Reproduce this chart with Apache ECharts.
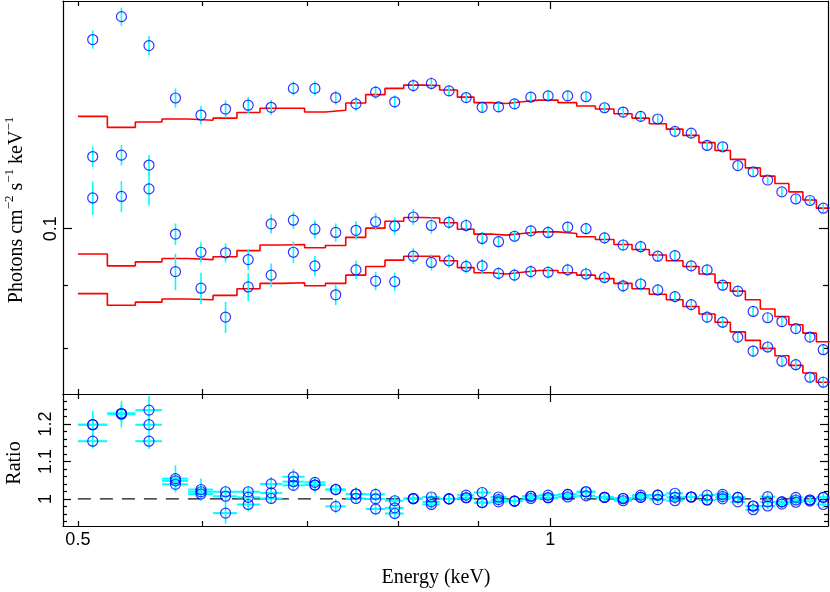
<!DOCTYPE html>
<html><head><meta charset="utf-8">
<script src="https://cdn.jsdelivr.net/npm/echarts@6/dist/echarts.min.js"></script>
<style>html,body{margin:0;padding:0;background:#fff}#c{width:830px;height:592px}</style>
</head><body><div id="c"></div>
<script>
// ---- data (energies in keV) ----
const binEdges = [0.500,0.5221,0.5440,0.5657,0.5878,0.6097,0.6315,0.6532,0.6750,0.6974,0.7190,0.7408,0.7628,0.7847,0.8066,0.8290,0.8503,0.8727,0.8942,0.9163,0.9379,0.9600,0.9833,1.0115,1.0397,1.0686,1.0981,1.1276,1.1566,1.1859,1.2152,1.2441,1.2737,1.3027,1.3317,1.3613,1.3908,1.4195,1.4490,1.4780,1.5072];
const binCenters = [0.511,0.533,0.555,0.577,0.599,0.621,0.642,0.664,0.686,0.708,0.730,0.752,0.774,0.796,0.818,0.840,0.862,0.884,0.905,0.927,0.949,0.972,0.997,1.026,1.054,1.083,1.113,1.142,1.171,1.201,1.230,1.259,1.288,1.317,1.347,1.376,1.405,1.434,1.464,1.493];

const fluxA = [0.1423,0.1485,0.1407,0.1276,0.1236,0.1250,0.1259,0.1254,0.1299,0.1299,0.1277,0.1262,0.1290,0.1267,0.1306,0.1311,0.1293,0.1277,0.1254,0.1255,0.1262,0.1278,0.1281,0.1281,0.1279,0.1253,0.1243,0.1233,0.1227,0.1199,0.1195,0.1168,0.1165,0.1125,0.1112,0.1095,0.1071,0.1057,0.1054,0.1039];
const fluxB = [0.1144,0.1147,0.1126,0.0990,0.0957,0.0956,0.0944,0.1009,0.1016,0.0999,0.0993,0.0997,0.1013,0.1005,0.1022,0.1006,0.1012,0.1006,0.0982,0.0976,0.0986,0.0996,0.0993,0.1003,0.1000,0.0983,0.0970,0.0967,0.0950,0.0951,0.0933,0.0926,0.0900,0.0890,0.0857,0.0847,0.0841,0.0830,0.0817,0.0798];
const fluxC = [0.1059,0.1062,0.1077,0.0923,0.0895,0.0848,0.0897,0.0917,0.0957,0.0933,0.0884,0.0926,0.0907,0.0906,0.0950,0.0939,0.0942,0.0932,0.0933,0.0920,0.0917,0.0923,0.0922,0.0926,0.0919,0.0913,0.0899,0.0902,0.0892,0.0881,0.0868,0.0848,0.0840,0.0817,0.0796,0.0802,0.0781,0.0776,0.0758,0.0751];

const modelA = [0.1233,0.1208,0.1220,0.1227,0.1224,0.1229,0.1242,0.1252,0.1252,0.1243,0.1247,0.1264,0.1284,0.1299,0.1307,0.1306,0.1295,0.1278,0.1265,0.1263,0.1267,0.1271,0.1271,0.1265,0.1257,0.1250,0.1239,0.1229,0.1216,0.1204,0.1190,0.1174,0.1157,0.1138,0.1120,0.1103,0.1088,0.1071,0.1055,0.1039];
const modelB = [0.0954,0.0933,0.0940,0.0946,0.0944,0.0949,0.0960,0.0970,0.0971,0.0965,0.0969,0.0984,0.1001,0.1014,0.1021,0.1020,0.1011,0.0999,0.0990,0.0988,0.0991,0.0994,0.0994,0.0991,0.0985,0.0980,0.0971,0.0962,0.0952,0.0942,0.0932,0.0919,0.0904,0.0890,0.0876,0.0861,0.0849,0.0836,0.0823,0.0810];
const modelC = [0.0886,0.0867,0.0872,0.0877,0.0876,0.0883,0.0894,0.0903,0.0904,0.0899,0.0903,0.0917,0.0932,0.0943,0.0950,0.0950,0.0942,0.0930,0.0921,0.0919,0.0922,0.0925,0.0925,0.0921,0.0917,0.0911,0.0903,0.0894,0.0885,0.0876,0.0865,0.0853,0.0840,0.0825,0.0812,0.0800,0.0789,0.0775,0.0764,0.0751];

// relative (fractional) 1-sigma errors
const relErrA = [0.017,0.017,0.018,0.018,0.017,0.016,0.015,0.014,0.013,0.013,0.013,0.013,0.012,0.012,0.012,0.012,0.010,0.010,0.010,0.010,0.010,0.010,0.010,0.010,0.010,0.010,0.010,0.010,0.009,0.009,0.009,0.009,0.008,0.008,0.008,0.008,0.008,0.008,0.008,0.008];
const relErrB = [0.019,0.019,0.019,0.020,0.019,0.018,0.019,0.018,0.016,0.017,0.017,0.017,0.016,0.016,0.015,0.015,0.012,0.012,0.012,0.011,0.011,0.011,0.011,0.011,0.011,0.011,0.011,0.011,0.010,0.010,0.010,0.010,0.010,0.010,0.010,0.010,0.010,0.010,0.010,0.010];
const relErrC = [0.031,0.029,0.031,0.034,0.029,0.029,0.026,0.022,0.020,0.019,0.019,0.017,0.017,0.017,0.015,0.015,0.013,0.013,0.013,0.012,0.012,0.012,0.012,0.012,0.012,0.012,0.012,0.012,0.011,0.011,0.011,0.011,0.011,0.011,0.011,0.011,0.011,0.011,0.011,0.011];

const ratioA = [1.154,1.228,1.154,1.039,1.013,1.019,1.019,1.001,1.036,1.044,1.025,1.001,1.000,0.976,1.001,1.005,1.000,1.003,0.990,0.992,0.994,1.007,1.010,1.012,1.019,1.004,1.001,1.004,1.010,0.995,1.005,0.997,1.006,0.992,0.981,0.992,0.986,0.991,0.997,1.004];
const ratioB = [1.198,1.228,1.198,1.048,1.019,1.007,0.985,1.040,1.046,1.037,1.025,1.013,1.012,0.995,1.001,0.985,1.000,1.010,0.990,0.998,0.994,1.001,1.003,1.012,1.019,1.004,1.001,1.004,0.998,1.015,1.005,1.010,1.000,1.004,0.971,0.981,0.992,0.997,0.994,0.985];
const ratioC = [1.198,1.226,1.237,1.054,1.025,0.962,1.004,1.016,1.059,1.037,0.980,1.013,0.973,0.961,1.000,0.992,1.000,1.003,1.017,1.005,0.994,1.007,1.003,1.005,1.008,1.004,0.995,1.010,1.010,1.004,1.005,0.997,1.012,1.004,0.981,1.006,0.992,1.004,0.997,1.004];
const ratioUnity = 1;

// ---- ticks ----
const energyMajorTicks = [1];
const energyMinorTicks = [0.5,0.6,0.7,0.8,0.9];
const energyTickLabels = [0.5,1];
const fluxMajorTicks = [0.1];
const fluxMinorTicks = [0.08,0.09];
const ratioMajorTicks = [1,1.1,1.2];
const ratioMinorTicks = [0.94,0.96,0.98,1.02,1.04,1.06,1.08,1.12,1.14,1.16,1.18,1.22,1.24,1.26];

const X_MIN = 0.4892, X_MAX = 1.5034;
const F_MIN = 0.07347, F_MAX = 0.1529;
const R_MIN = 0.9276, R_MAX = 1.28;

const BLUE = '#0000ff', CYAN = '#00ffff', RED = '#ff0000', INK = '#000000';
const TICK_FONT = {fontFamily:'Liberation Sans', fontSize:18, color:INK};

function axisCommon(type, min, max, ticks, len, showLine, labels, extra) {
  return {
    type, min, max,
    axisLine:{show:showLine, onZero:false, lineStyle:{color:INK, width:1.2}},
    axisTick:{show:true, inside:true, length:len, customValues:ticks, lineStyle:{color:INK, width:1.2}},
    splitLine:{show:false},
    axisLabel: labels ? Object.assign({show:true, customValues:labels}, TICK_FONT, extra||{}) : {show:false}
  };
}
function xA(grid, pos, ticks, len, line, labels, extra) {
  return Object.assign(axisCommon('log', X_MIN, X_MAX, ticks, len, line, labels, extra), {gridIndex:grid, position:pos, logBase:10});
}
function yA(grid, pos, type, min, max, ticks, len, line, labels, extra) {
  const o = Object.assign(axisCommon(type, min, max, ticks, len, line, labels, extra), {gridIndex:grid, position:pos});
  if (type === 'log') o.logBase = 10;
  return o;
}

const xAxis = [
  xA(0,'bottom',energyMajorTicks,8,true),
  xA(0,'bottom',energyMinorTicks,5,false),
  xA(0,'top',energyMajorTicks,8,true),
  xA(0,'top',energyMinorTicks,5,false),
  xA(1,'bottom',energyMajorTicks,8,true,energyTickLabels,{margin:5, formatter:v=>String(+(+v).toFixed(2))}),
  xA(1,'bottom',energyMinorTicks,5,false),
  xA(1,'top',energyMajorTicks,8,true),
  xA(1,'top',energyMinorTicks,5,false)
];
const yAxis = [
  yA(0,'left','log',F_MIN,F_MAX,fluxMajorTicks,9,true,fluxMajorTicks,{rotate:90, margin:3, formatter:v=>String(+(+v).toFixed(3))}),
  yA(0,'left','log',F_MIN,F_MAX,fluxMinorTicks,5,false),
  yA(0,'right','log',F_MIN,F_MAX,fluxMajorTicks,9,true),
  yA(0,'right','log',F_MIN,F_MAX,fluxMinorTicks,5,false),
  yA(1,'left','value',R_MIN,R_MAX,ratioMajorTicks,8,true,ratioMajorTicks,{rotate:90, margin:8, formatter:v=>String(+(+v).toFixed(2))}),
  yA(1,'left','value',R_MIN,R_MAX,ratioMinorTicks,4,false),
  yA(1,'right','value',R_MIN,R_MAX,ratioMajorTicks,8,true),
  yA(1,'right','value',R_MIN,R_MAX,ratioMinorTicks,4,false)
];

function stepData(model) {
  const d = model.map((m,i)=>[binEdges[i], m]);
  d.push([binEdges[binEdges.length-1], model[model.length-1]]);
  return d;
}
function errData(flux, rel) {
  return flux.map((v,i)=>[binCenters[i], v*(1-rel[i]), v*(1+rel[i])]);
}
function ratioErrData(r, rel) {
  return r.map((v,i)=>[binCenters[i], binEdges[i], binEdges[i+1], v, v*(1-rel[i]), v*(1+rel[i])]);
}
function pts(vals) { return vals.map((v,i)=>[binCenters[i], v]); }

const modelSeries = [modelA, modelB, modelC].map(m => ({
  type:'line', xAxisIndex:0, yAxisIndex:0, step:'end', data:stepData(m),
  symbol:'none', lineStyle:{color:RED, width:1.6}, z:2, silent:true
}));
const errSeries = [[fluxA,relErrA],[fluxB,relErrB],[fluxC,relErrC]].map(([f,e]) => ({
  type:'custom', xAxisIndex:0, yAxisIndex:0, data:errData(f,e), encode:{x:0, y:[1,2]}, z:3, silent:true,
  renderItem:(params, api) => {
    const p1 = api.coord([api.value(0), api.value(1)]);
    const p2 = api.coord([api.value(0), api.value(2)]);
    return {type:'line', shape:{x1:p1[0], y1:p1[1], x2:p2[0], y2:p2[1]}, style:{stroke:CYAN, lineWidth:1.6}};
  }
}));
const ptSeries = [fluxA, fluxB, fluxC].map(f => ({
  type:'scatter', xAxisIndex:0, yAxisIndex:0, data:pts(f), symbol:'circle', symbolSize:10,
  itemStyle:{color:'rgba(0,0,0,0)', borderColor:BLUE, borderWidth:1.2}, z:4, silent:true
}));

const unitySeries = {
  type:'line', xAxisIndex:4, yAxisIndex:4, symbol:'none', silent:true, z:2,
  data:[[binEdges[0], ratioUnity],[binEdges[binEdges.length-1], ratioUnity]],
  lineStyle:{color:'#111', width:1.4, type:[13,9]}
};
const ratioErrSeries = [[ratioA,relErrA],[ratioB,relErrB],[ratioC,relErrC]].map(([r,e]) => ({
  type:'custom', xAxisIndex:4, yAxisIndex:4, data:ratioErrData(r,e), encode:{x:[0,1,2], y:[3,4,5]}, z:3, silent:true,
  renderItem:(params, api) => {
    const c = api.value(0), lo = api.value(1), hi = api.value(2);
    const r = api.value(3), rlo = api.value(4), rhi = api.value(5);
    const h1 = api.coord([lo, r]), h2 = api.coord([hi, r]);
    const v1 = api.coord([c, rlo]), v2 = api.coord([c, rhi]);
    return {type:'group', children:[
      {type:'line', shape:{x1:h1[0], y1:h1[1], x2:h2[0], y2:h2[1]}, style:{stroke:CYAN, lineWidth:2}},
      {type:'line', shape:{x1:v1[0], y1:v1[1], x2:v2[0], y2:v2[1]}, style:{stroke:CYAN, lineWidth:1.6}}
    ]};
  }
}));
const ratioPtSeries = [ratioA, ratioB, ratioC].map(r => ({
  type:'scatter', xAxisIndex:4, yAxisIndex:4, data:pts(r), symbol:'circle', symbolSize:10,
  itemStyle:{color:'rgba(0,0,0,0)', borderColor:BLUE, borderWidth:1.2}, z:4, silent:true
}));

const chart = echarts.init(document.getElementById('c'), null, {renderer:'canvas'});
chart.setOption({
  animation:false,
  backgroundColor:'#ffffff',
  grid:[
    {left:63, right:2, top:1, height:393},
    {left:63, right:2, top:394, height:132}
  ],
  xAxis, yAxis,
  series:[...modelSeries, ...errSeries, ...ptSeries, unitySeries, ...ratioErrSeries, ...ratioPtSeries],
  graphic:[
    {type:'text', x:15, y:210, rotation:Math.PI/2, style:{
      text:'{a|Photons cm}{s|−2}{a| s}{s|−1}{a| keV}{s|−1}',
      rich:{a:{fontFamily:'Liberation Serif', fontSize:20, lineHeight:24, fill:INK, verticalAlign:'bottom'},
            s:{fontFamily:'Liberation Serif', fontSize:13, lineHeight:14, fill:INK, verticalAlign:'top'}},
      align:'center', verticalAlign:'middle'}},
    {type:'text', x:15, y:463, rotation:Math.PI/2, style:{text:'Ratio', fontFamily:'Liberation Serif', fontSize:20, fill:INK, align:'center', verticalAlign:'middle'}},
    {type:'text', x:436, y:578, style:{text:'Energy (keV)', fontFamily:'Liberation Serif', fontSize:20, fill:INK, align:'center', verticalAlign:'middle'}}
  ]
});
</script></body></html>
